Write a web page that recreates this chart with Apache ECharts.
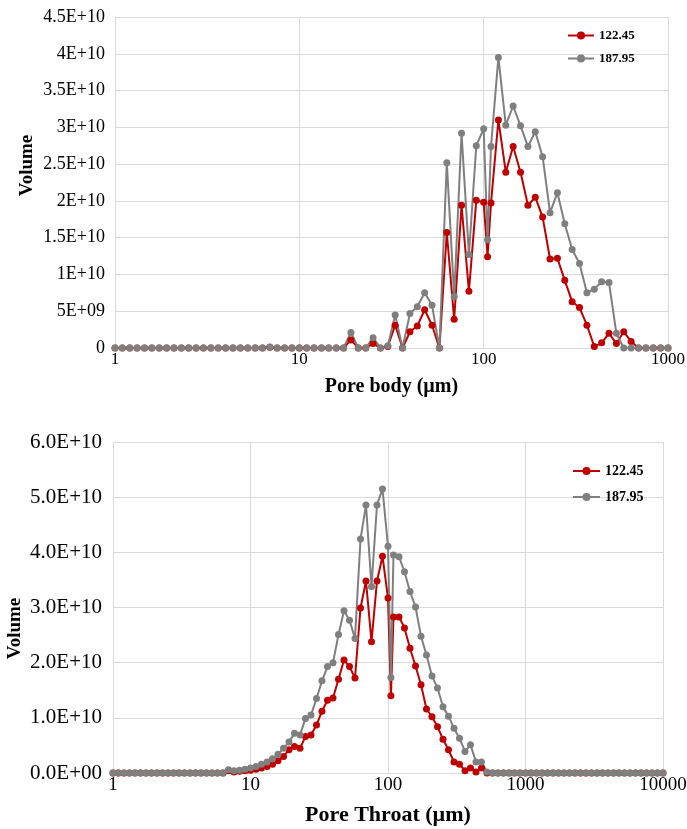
<!DOCTYPE html>
<html>
<head>
<meta charset="utf-8">
<title>Pore body / pore throat volume</title>
<script src="https://cdn.jsdelivr.net/npm/echarts@6.0.0/dist/echarts.min.js"></script>
<style>
  html, body { margin: 0; padding: 0; background: #fff; }
  #main { width: 687px; height: 829px; }
</style>
</head>
<body>
<div id="main"></div>
<script>
// pore size bins (µm), log spaced, with the extra 105 point after 100
var poreSize = [
  1, 1.096, 1.202, 1.318, 1.445, 1.585, 1.738, 1.905, 2.089, 2.291, 2.512, 2.754, 3.02, 3.311, 3.631, 3.981, 4.365, 4.786, 5.248, 5.754, 6.31, 6.918, 7.586, 8.318, 9.12,
  10, 10.96, 12.02, 13.18, 14.45, 15.85, 17.38, 19.05, 20.89, 22.91, 25.12, 27.54, 30.2, 33.11, 36.31, 39.81, 43.65, 47.86, 52.48, 57.54, 63.1, 69.18, 75.86, 83.18, 91.2,
  100, 105, 109.6, 120.2, 131.8, 144.5, 158.5, 173.8, 190.5, 208.9, 229.1, 251.2, 275.4, 302, 331.1, 363.1, 398.1, 436.5, 478.6, 524.8, 575.4, 631, 691.8, 758.6, 831.8, 912,
  1000, 1096, 1202, 1318, 1445, 1585, 1738, 1905, 2089, 2291, 2512, 2754, 3020, 3311, 3631, 3981, 4365, 4786, 5248, 5754, 6310, 6918, 7586, 8318, 9120, 10000
];

var seriesNames = ['122.45', '187.95'];

// volumes in units of 1E+10
var bodyRed = [
  0,0,0,0,0,0,0,0,0,0, 0,0,0,0,0,0,0,0,0,0, 0,
  0.01,
  0,0,0,0,0,0,0,0,0,0,
  0.11, 0, 0, 0.06, 0, 0.02, 0.31, 0, 0.22, 0.30, 0.52, 0.31, 0, 1.57, 0.39, 1.94, 0.77, 2.01, 1.98,
  1.24,
  1.97, 3.10, 2.39, 2.74, 2.39, 1.94, 2.05, 1.78, 1.21, 1.22, 0.92, 0.63, 0.55, 0.31, 0.02, 0.07, 0.20, 0.06, 0.22, 0.09, 0, 0, 0, 0, 0
];
var bodyGrey = [
  0,0,0,0,0,0,0,0,0,0, 0,0,0,0,0,0,0,0,0,0, 0,
  0.015,
  0,0,0,0,0,0,0,0,0,0,
  0.21, 0, 0, 0.14, 0, 0.03, 0.45, 0, 0.47, 0.56, 0.75, 0.58, 0, 2.52, 0.70, 2.92, 1.27, 2.75, 2.98,
  1.47,
  2.74, 3.95, 3.03, 3.29, 3.02, 2.74, 2.94, 2.60, 1.84, 2.11, 1.69, 1.34, 1.15, 0.75, 0.80, 0.90, 0.89, 0.20, 0, 0, 0, 0, 0, 0, 0
];

var throatRed = [
  0,0,0,0,0,0,0,0,0,0, 0,0,0,0,0,0,0,0,0,0, 0,
  0.04, 0.02, 0.03, 0.04, 0.05, 0.07, 0.09, 0.12, 0.16, 0.22, 0.30, 0.42, 0.48, 0.45, 0.66, 0.69, 0.87, 1.12, 1.32, 1.36,
  1.70, 2.05, 1.93, 1.72, 2.99, 3.48, 2.38, 3.48, 3.93, 3.17,
  1.40,
  2.83, 2.83, 2.63, 2.26, 1.94, 1.60, 1.16, 1.02, 0.84, 0.61, 0.42, 0.20, 0.16, 0.04, 0.09, 0.02, 0.09, 0,
  0,0,0,0,0,0,0,0,0,0, 0,0,0,0,0,0,0,0,0,0, 0,0,0,0,0,0,0,0,0,0, 0,0
];
var throatGrey = [
  0,0,0,0,0,0,0,0,0,0, 0,0,0,0,0,0,0,0,0,0, 0,
  0.06, 0.04, 0.05, 0.07, 0.09, 0.12, 0.16, 0.20, 0.26, 0.34, 0.45, 0.56, 0.72, 0.69, 0.99, 1.05, 1.35, 1.67, 1.93, 2.00,
  2.51, 2.94, 2.77, 2.44, 4.24, 4.86, 3.38, 4.86, 5.15, 4.11,
  1.73,
  3.95, 3.92, 3.65, 3.29, 3.01, 2.48, 2.14, 1.76, 1.54, 1.20, 1.03, 0.81, 0.63, 0.39, 0.51, 0.20, 0.20, 0.02,
  0,0,0,0,0,0,0,0,0,0, 0,0,0,0,0,0,0,0,0,0, 0,0,0,0,0,0,0,0,0,0, 0,0
];

var bodyYLabels = ['0', '5E+09', '1E+10', '1.5E+10', '2E+10', '2.5E+10', '3E+10', '3.5E+10', '4E+10', '4.5E+10'];
var throatYLabels = ['0.0E+00', '1.0E+10', '2.0E+10', '3.0E+10', '4.0E+10', '5.0E+10', '6.0E+10'];
var bodyXLabels = ['1', '10', '100', '1000'];
var throatXLabels = ['1', '10', '100', '1000', '10000'];

var RED = '#C00000';
var GREY = '#7F7F7F';
var FONT = "'Liberation Serif', 'Times New Roman', serif";
var GRIDLINE = '#D9D9D9';

function pairs(vals) {
  var out = [];
  for (var i = 0; i < vals.length; i++) out.push([poreSize[i], vals[i]]);
  return out;
}

function lineSeries(name, color, vals, idx) {
  return {
    name: name,
    type: 'line',
    xAxisIndex: idx,
    yAxisIndex: idx,
    data: pairs(vals),
    symbol: 'circle',
    symbolSize: 7,
    itemStyle: { color: color },
    lineStyle: { color: color, width: 2 },
    emphasis: { disabled: true }
  };
}

function xAxisCfg(idx, max, name, labels, fs, titleFs, gap) {
  return {
    type: 'log', logBase: 10, gridIndex: idx, min: 1, max: max,
    name: name, nameLocation: 'middle', nameGap: gap, nameMoveOverlap: false,
    nameTextStyle: { fontFamily: FONT, fontWeight: 'bold', fontSize: titleFs, color: '#000' },
    axisLine: { show: true, lineStyle: { color: GRIDLINE } },
    axisTick: { show: false },
    axisLabel: {
      fontFamily: FONT, fontSize: fs, color: '#000', margin: 3,
      formatter: function (v) { return labels[Math.round(Math.log10(v))]; }
    },
    splitLine: { show: true, lineStyle: { color: GRIDLINE } },
    minorSplitLine: { show: false }
  };
}

function yAxisCfg(idx, max, step, labels, fs, margin, gap, pad) {
  return {
    type: 'value', gridIndex: idx, min: 0, max: max, interval: step,
    name: 'Volume', nameLocation: 'middle', nameGap: gap, nameMoveOverlap: false,
    nameTextStyle: { fontFamily: FONT, fontWeight: 'bold', fontSize: 19, color: '#000', padding: pad },
    axisLine: { show: true, lineStyle: { color: GRIDLINE } },
    axisTick: { show: false },
    axisLabel: {
      fontFamily: FONT, fontSize: fs, color: '#000', margin: margin,
      formatter: function (v) { return labels[Math.round(v / step)]; }
    },
    splitLine: { show: true, lineStyle: { color: GRIDLINE } }
  };
}

var chart = echarts.init(document.getElementById('main'));
var option = {
  animation: false,
  backgroundColor: '#fff',
  grid: [
    { left: 115, right: 19, top: 17, bottom: 481, outerBoundsMode: 'none' },
    { left: 113, right: 24, top: 442, bottom: 56, outerBoundsMode: 'none' }
  ],
  legend: [
    {
      data: seriesNames, orient: 'vertical', left: 562, top: 24, itemGap: 10,
      itemWidth: 26, itemHeight: 10,
      textStyle: { fontFamily: FONT, fontWeight: 'bold', fontSize: 13, color: '#000' }
    },
    {
      data: seriesNames, orient: 'vertical', left: 567, top: 459, itemGap: 12,
      itemWidth: 27, itemHeight: 10,
      textStyle: { fontFamily: FONT, fontWeight: 'bold', fontSize: 14, color: '#000' }
    }
  ],
  xAxis: [
    xAxisCfg(0, 1000, 'Pore body (µm)', bodyXLabels, 17, 20, 29),
    xAxisCfg(1, 10000, 'Pore Throat (µm)', throatXLabels, 19, 22, 31)
  ],
  yAxis: [
    yAxisCfg(0, 4.5, 0.5, bodyYLabels, 18, 10, 78, [0, 0, 0, 34]),
    yAxisCfg(1, 6, 1, throatYLabels, 21, 11, 88, [0, 42, 0, 0])
  ],
  series: [
    lineSeries(seriesNames[0], RED, bodyRed, 0),
    lineSeries(seriesNames[1], GREY, bodyGrey, 0),
    lineSeries(seriesNames[0], RED, throatRed, 1),
    lineSeries(seriesNames[1], GREY, throatGrey, 1)
  ]
};
chart.setOption(option);
</script>
</body>
</html>
